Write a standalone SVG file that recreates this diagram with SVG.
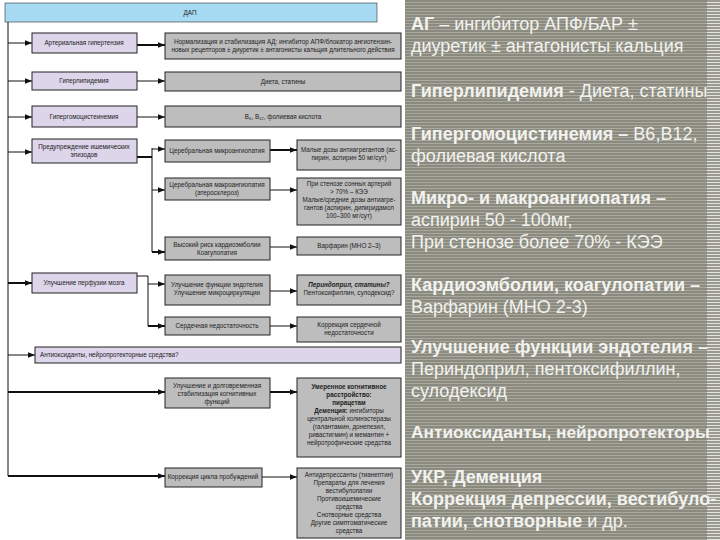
<svg xmlns="http://www.w3.org/2000/svg" width="720" height="540" viewBox="0 0 720 540">
<defs>
<pattern id="stripes" x="0" y="0" width="10" height="3" patternUnits="userSpaceOnUse">
<rect width="10" height="3" fill="#8a8a7f"/>
<rect y="2" width="10" height="1" fill="#a9a99f"/>
</pattern>
<pattern id="edge" x="0" y="0" width="10" height="3" patternUnits="userSpaceOnUse">
<rect width="10" height="3" fill="#9a9a90"/>
<rect y="2" width="10" height="1" fill="#e4e4de"/>
</pattern>
<marker id="ah" viewBox="0 0 10 10" refX="10" refY="5" markerWidth="7" markerHeight="7" markerUnits="userSpaceOnUse" orient="auto">
<path d="M0,1 L10,5 L0,9 z" fill="#111"/>
</marker>
</defs>
<style>
.l{fill:#ddd5ea;stroke:#222;stroke-width:1}
.g{fill:#bdbdbd;stroke:#222;stroke-width:1}
.t{font-family:"Liberation Sans",Arial,sans-serif;font-size:6.3px;fill:#222;text-anchor:middle}
.s{text-anchor:start}
.c{stroke:#111;stroke-width:1;fill:none}
.ck{stroke:#111;stroke-width:2;fill:none}
.a{marker-end:url(#ah)}
.w{font-family:"Liberation Sans",Arial,sans-serif;font-size:18px;fill:#f2f2ee}
.b{font-weight:bold}
.n{font-size:17.3px}
</style>
<rect width="720" height="540" fill="#ffffff"/>

<g id="header">
<rect x="5" y="3" width="372" height="19" fill="#a6d9f2" stroke="#333" stroke-width="0.6"/>
<text class="t" x="190" y="15">ДАП</text>
</g>

<g id="connectors">
<path class="c" d="M8,22 V476"/>
<path class="c a" d="M8,43 H32"/>
<path class="c a" d="M8,81 H32"/>
<path class="c a" d="M8,117 H32"/>
<path class="c a" d="M8,152 H32"/>
<path class="ck a" d="M8,283 H32"/>
<path class="c a" d="M8,355 H35"/>
<path class="ck a" d="M8,392 H165"/>
<path class="ck a" d="M8,476 H165"/>
<path class="ck a" d="M137,45 H165"/>
<path class="c a" d="M137,81 H165"/>
<path class="c a" d="M137,117 H165"/>
<path class="ck" d="M137,157 H152"/>
<path class="c" d="M152,148 V252"/>
<path class="c a" d="M152,149 H165"/>
<path class="c a" d="M152,190 H165"/>
<path class="ck a" d="M152,252 H165"/>
<path class="ck a" d="M270,150 H297"/>
<path class="c a" d="M270,190 H297"/>
<path class="c a" d="M270,247 H297"/>
<path class="c" d="M137,276 H148 V326"/>
<path class="c a" d="M148,284 H165"/>
<path class="ck a" d="M148,326 H165"/>
<path class="c a" d="M270,291 H297"/>
<path class="c a" d="M270,326 H297"/>
<path class="ck a" d="M270,392 H297"/>
<path class="c a" d="M262,477 H297"/>
</g>

<g id="n-ag"><rect class="l" x="32" y="33" width="105" height="20"/><text class="t" x="84" y="45">Артериальная гипертензия</text></g>
<g id="n-ag-r"><rect class="g" x="165" y="33" width="236" height="26"/><text class="t" x="283" y="44">Нормализация и стабилизация АД: ингибитор АПФ/блокатор ангиотензин-</text><text class="t" x="283" y="52">новых рецепторов ± диуретик ± антагонисты кальция длительного действия</text></g>

<g id="n-gl"><rect class="l" x="32" y="72" width="105" height="18"/><text class="t" x="84" y="83">Гиперлипидемия</text></g>
<g id="n-gl-r"><rect class="g" x="165" y="72" width="236" height="19"/><text class="t" x="283" y="84">Диета, статины</text></g>

<g id="n-gg"><rect class="l" x="32" y="106" width="105" height="21"/><text class="t" x="84" y="119">Гипергомоцистеинемия</text></g>
<g id="n-gg-r"><rect class="g" x="165" y="106" width="236" height="21"/><text class="t" x="283" y="119">B₆, B₁₂, фолиевая кислота</text></g>

<g id="n-pr"><rect class="l" x="32" y="139" width="105" height="24"/><text class="t" x="84" y="149">Предупреждение ишемических</text><text class="t" x="84" y="157">эпизодов</text></g>

<g id="n-mi"><rect class="g" x="165" y="140" width="105" height="22"/><text class="t" x="217" y="153">Церебральная микроангиопатия</text></g>
<g id="n-mi-r"><rect class="g" x="297" y="140" width="104" height="30"/><text class="t" x="349" y="152">Малые дозы антиагрегантов (ас-</text><text class="t" x="349" y="160">пирин, аспирин 50 мг/сут)</text></g>

<g id="n-ma"><rect class="g" x="165" y="178" width="105" height="22"/><text class="t" x="217" y="187">Церебральная макроангиопатия</text><text class="t" x="217" y="195">(атеросклероз)</text></g>
<g id="n-ma-r"><rect class="g" x="297" y="178" width="104" height="47"/><text class="t" x="349" y="186">При стенозе сонных артерий</text><text class="t" x="349" y="194">&gt; 70% – КЭЭ</text><text class="t" x="349" y="202">Малые/средние дозы антиагре-</text><text class="t" x="349" y="210">гантов (аспирин, дипиридамол</text><text class="t" x="349" y="218">100–300 мг/сут)</text></g>

<g id="n-ke"><rect class="g" x="165" y="237" width="105" height="23"/><text class="t" x="217" y="247">Высокий риск кардиоэмболии</text><text class="t" x="217" y="255">Коагулопатия</text></g>
<g id="n-ke-r"><rect class="g" x="297" y="237" width="104" height="18"/><text class="t" x="349" y="248">Варфарин (МНО 2–3)</text></g>

<g id="n-pe"><rect class="l" x="32" y="273" width="105" height="20"/><text class="t" x="84" y="285">Улучшение перфузии мозга</text></g>
<g id="n-en"><rect class="g" x="165" y="275" width="105" height="30"/><text class="t" x="217" y="287">Улучшение функции эндотелия</text><text class="t" x="217" y="295">Улучшение микроциркуляции</text></g>
<g id="n-en-r"><rect class="g" x="297" y="275" width="104" height="30"/><text class="t" x="349" y="287" font-weight="bold" font-style="italic">Периндоприл, статины?</text><text class="t" x="349" y="295">Пентоксифиллин, сулодексид?</text></g>

<g id="n-sn"><rect class="g" x="165" y="317" width="105" height="18"/><text class="t" x="217" y="328">Сердечная недостаточность</text></g>
<g id="n-sn-r"><rect class="g" x="297" y="317" width="104" height="25"/><text class="t" x="349" y="327">Коррекция сердечной</text><text class="t" x="349" y="335">недостаточности</text></g>

<g id="n-ao"><rect class="l" x="35" y="347" width="366" height="16"/><text class="t s" x="40" y="357">Антиоксиданты, нейропротекторные средства?</text></g>

<g id="n-kf"><rect class="g" x="165" y="378" width="105" height="30"/><text class="t" x="217" y="388">Улучшение и долговременная</text><text class="t" x="217" y="396">стабилизация когнитивных</text><text class="t" x="217" y="404">функций</text></g>
<g id="n-kf-r"><rect class="g" x="297" y="378" width="104" height="79"/><text class="t" x="349" y="389" font-weight="bold">Умеренное когнитивное</text><text class="t" x="349" y="397" font-weight="bold">расстройство:</text><text class="t" x="349" y="405" font-weight="bold">пирацетам</text><text class="t" x="349" y="413"><tspan font-weight="bold">Деменция:</tspan> ингибиторы</text><text class="t" x="349" y="421">центральной холинэстеразы</text><text class="t" x="349" y="429">(галантамин, донепезил,</text><text class="t" x="349" y="437">ривастигмин) и мемантин +</text><text class="t" x="349" y="445">нейротрофические средства</text></g>

<g id="n-cp"><rect class="g" x="165" y="468" width="97" height="19"/><text class="t" x="213" y="479">Коррекция цикла пробуждений</text></g>
<g id="n-cp-r"><rect class="g" x="297" y="468" width="104" height="70"/><text class="t" x="349" y="477">Антидепрессанты (тианептин)</text><text class="t" x="349" y="485">Препараты для лечения</text><text class="t" x="349" y="493">вестибулопатии</text><text class="t" x="349" y="501">Противоишемические</text><text class="t" x="349" y="509">средства</text><text class="t" x="349" y="517">Снотворные средства</text><text class="t" x="349" y="525">Другие симптоматические</text><text class="t" x="349" y="533">средства</text></g>

<g id="panel">
<rect x="405" y="0" width="315" height="540" fill="url(#stripes)"/>
<rect x="707" y="0" width="13" height="540" fill="url(#edge)"/>
<text class="w" x="411" y="30"><tspan class="b">АГ</tspan> – ингибитор АПФ/БАР ±</text>
<text class="w" x="411" y="52">диуретик ± антагонисты кальция</text>
<text class="w" x="411" y="97"><tspan class="b">Гиперлипидемия</tspan> - Диета, статины</text>
<text class="w" x="411" y="140"><tspan class="b">Гипергомоцистинемия –</tspan> В6,В12,</text>
<text class="w" x="411" y="162">фолиевая кислота</text>
<text class="w b" x="411" y="204">Микро- и макроангиопатия –</text>
<text class="w" x="411" y="226">аспирин 50 - 100мг,</text>
<text class="w" x="411" y="248">При стенозе более 70% - КЭЭ</text>
<text class="w b" x="411" y="291">Кардиоэмболии, коагулопатии –</text>
<text class="w" x="411" y="313">Варфарин (МНО 2-3)</text>
<text class="w b" x="411" y="353">Улучшение функции эндотелия –</text>
<text class="w" x="411" y="375">Периндоприл, пентоксифиллин,</text>
<text class="w" x="411" y="397">сулодексид</text>
<text class="w b n" x="411" y="438">Антиоксиданты, нейропротекторы</text>
<text class="w b" x="411" y="483">УКР, Деменция</text>
<text class="w b" x="411" y="505">Коррекция депрессии, вестибуло-</text>
<text class="w" x="411" y="527"><tspan class="b">патии, снотворные</tspan> и др.</text>
</g>
</svg>
